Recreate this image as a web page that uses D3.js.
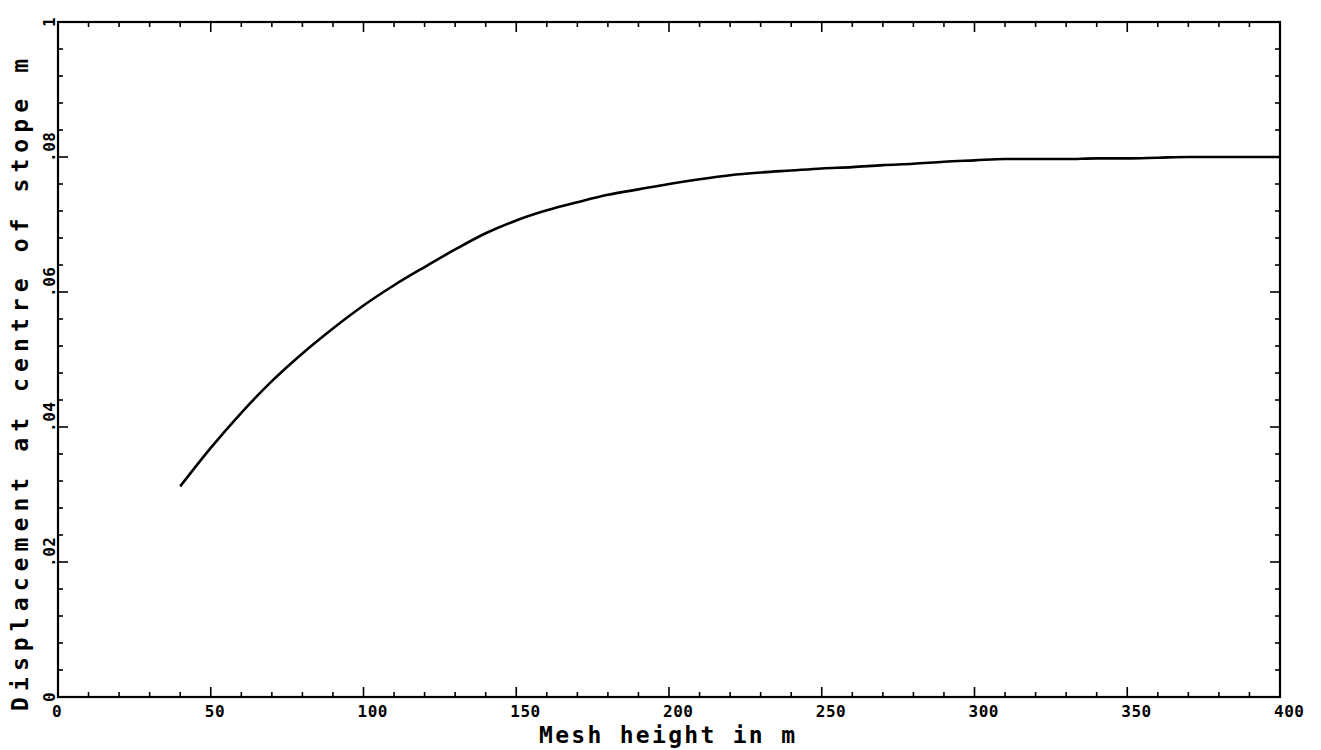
<!DOCTYPE html>
<html>
<head>
<meta charset="utf-8">
<script src="https://cdn.jsdelivr.net/npm/d3@7"></script>
<style>
  html, body { margin: 0; padding: 0; background: #fff; }
  svg { display: block; }
  text { font-family: "DejaVu Sans Mono", "Liberation Mono", monospace; font-weight: bold; fill: #000; }
</style>
</head>
<body>
<svg id="chart" width="1321" height="750"></svg>
<script>
// ---- data ----
const meshHeight = [40, 50, 60, 70, 80, 90, 100, 110, 120, 130, 140, 150, 160, 170, 180, 190, 200,
  210, 220, 230, 240, 250, 260, 270, 280, 290, 300, 310, 320, 330, 340, 350, 360, 370, 380, 390, 400];
const displacement = [0.0312, 0.0369, 0.0421, 0.0468, 0.0509, 0.0546, 0.0580, 0.0610, 0.0637, 0.0663,
  0.0687, 0.0706, 0.0721, 0.0733, 0.0744, 0.0752, 0.0760, 0.0767, 0.0773, 0.0777, 0.0780, 0.0783,
  0.0785, 0.0788, 0.0790, 0.0793, 0.0795, 0.0797, 0.0797, 0.0797, 0.0798, 0.0798, 0.0799, 0.0800,
  0.0800, 0.0800, 0.0800];
const xTickValues = [0, 50, 100, 150, 200, 250, 300, 350, 400];
const xTickLabels = ["0", "50", "100", "150", "200", "250", "300", "350", "400"];
const yTickValues = [0, 0.02, 0.04, 0.06, 0.08, 0.1];
const yTickLabels = ["0", ".02", ".04", ".06", ".08", "1"];
const xTitle = "Mesh height in m";
const yTitle = "Displacement at centre of stope m";

// ---- layout ----
const mLeft = 58, mRight = 1280, mTop = 22, mBottom = 697;
const svg = d3.select("#chart");
const x = d3.scaleLinear().domain([0, 400]).range([mLeft, mRight]);
const y = d3.scaleLinear().domain([0, 0.1]).range([mBottom, mTop]);

// minor / major ticks
const xMinor = d3.range(0, 401, 10);
const yMinor = d3.range(0, 0.1001, 0.004);
const isMajorX = v => Math.abs(v % 50) < 1e-6;
const isMajorY = v => Math.abs(Math.round(v / 0.02) * 0.02 - v) < 1e-6;

const ticks = svg.append("g").attr("stroke", "#000").attr("stroke-width", 1.6);
xMinor.forEach(v => {
  const len = isMajorX(v) ? 10 : 5;
  ticks.append("line").attr("x1", x(v)).attr("x2", x(v)).attr("y1", mBottom).attr("y2", mBottom - len);
  ticks.append("line").attr("x1", x(v)).attr("x2", x(v)).attr("y1", mTop).attr("y2", mTop + len);
});
yMinor.forEach(v => {
  const len = isMajorY(v) ? 10 : 5;
  ticks.append("line").attr("x1", mLeft).attr("x2", mLeft + len).attr("y1", y(v)).attr("y2", y(v));
  ticks.append("line").attr("x1", mRight).attr("x2", mRight - len).attr("y1", y(v)).attr("y2", y(v));
});

// frame
svg.append("rect")
  .attr("x", mLeft).attr("y", mTop)
  .attr("width", mRight - mLeft).attr("height", mBottom - mTop)
  .attr("fill", "none").attr("stroke", "#000").attr("stroke-width", 2.2);

// x tick labels
svg.append("g").selectAll("text").data(xTickValues).join("text")
  .attr("x", d => x(d) - 6)
  .attr("y", mBottom + 20)
  .attr("text-anchor", "start")
  .style("font-size", "16px")
  .style("letter-spacing", "0.5px")
  .text((d, i) => xTickLabels[i]);

// y tick labels (rotated)
svg.append("g").selectAll("text").data(yTickValues).join("text")
  .attr("transform", d => `translate(55,${y(d) + 5}) rotate(-90)`)
  .attr("text-anchor", "start")
  .style("font-size", "16px")
  .style("letter-spacing", "0.5px")
  .text((d, i) => yTickLabels[i]);

// axis titles
svg.append("text")
  .attr("x", 667).attr("y", 743)
  .attr("text-anchor", "middle")
  .attr("textLength", 256).attr("lengthAdjust", "spacing")
  .style("font-size", "23px")
  .text(xTitle);

svg.append("text")
  .attr("transform", "translate(28,385) rotate(-90)")
  .attr("text-anchor", "middle")
  .attr("textLength", 652).attr("lengthAdjust", "spacing")
  .style("font-size", "23px")
  .text(yTitle);

// curve
const line = d3.line()
  .x((d, i) => x(meshHeight[i]))
  .y(d => y(d))
  .curve(d3.curveMonotoneX);
svg.append("path")
  .datum(displacement)
  .attr("d", line)
  .attr("fill", "none")
  .attr("stroke", "#000")
  .attr("stroke-width", 2.6)
  .attr("stroke-linejoin", "round");
</script>
</body>
</html>
